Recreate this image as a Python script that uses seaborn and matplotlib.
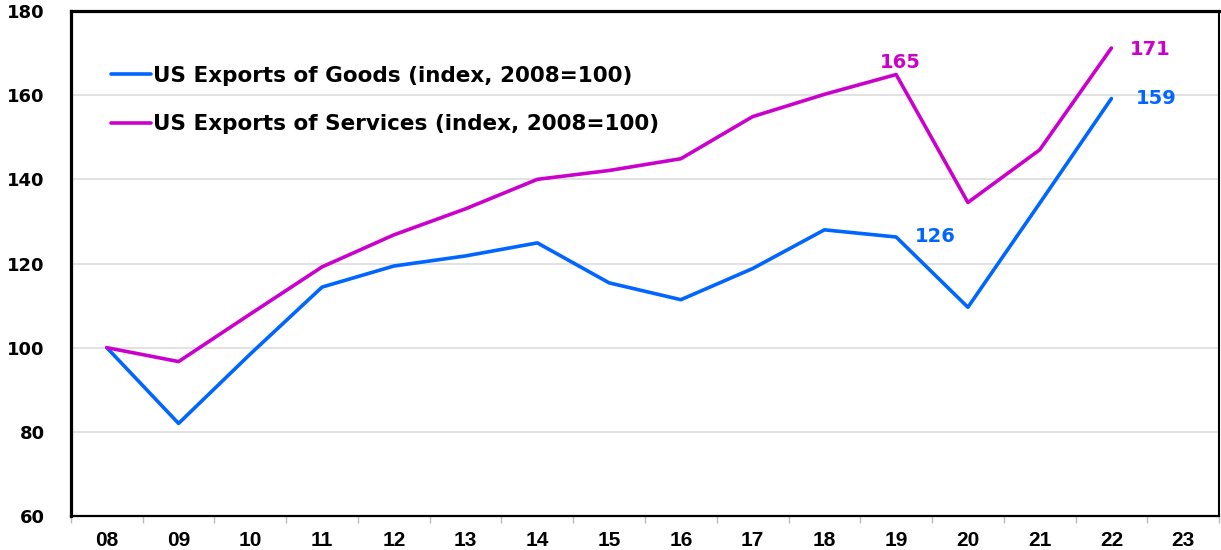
import matplotlib
matplotlib.use("Agg")
import matplotlib.pyplot as plt
from matplotlib.ticker import FixedLocator
import seaborn as sns
import pandas as pd
import numpy as np

# Annual export indices, 2008 = 100
years = ["08", "09", "10", "11", "12", "13", "14", "15", "16", "17", "18", "19", "20", "21", "22", "23"]
goods = [100, 82.0, 98.5, 114.4, 119.4, 121.8, 124.9, 115.4, 111.4, 118.8, 128.0, 126.3, 109.6, 134.3, 159.2]
services = [100, 96.7, 108.0, 119.2, 126.8, 133.0, 140.0, 142.1, 144.9, 154.9, 160.2, 164.9, 134.5, 147.0, 171.2]
series_names = ["US Exports of Goods (index, 2008=100)",
                "US Exports of Services (index, 2008=100)"]
colors = ["#0066FF", "#CC00CC"]
y_ticks = [60, 80, 100, 120, 140, 160, 180]

# Value labels: (series index, year index, text)
value_labels = [(1, 11, "165"), (0, 11, "126"), (1, 14, "171"), (0, 14, "159")]

sns.set_theme(style="white")
plt.rcParams["font.family"] = ["DejaVu Sans"]
plt.rcParams["font.weight"] = "bold"
plt.rcParams["text.color"] = "black"
plt.rcParams["xtick.color"] = "black"
plt.rcParams["ytick.color"] = "black"

df = pd.DataFrame({
    "pos": list(range(len(goods))) + list(range(len(services))),
    "value": goods + services,
    "series": [series_names[0]] * len(goods) + [series_names[1]] * len(services),
})

fig = plt.figure(figsize=(12.21, 5.5), dpi=100)
ax = fig.add_axes([0.0581, 0.0618, 0.9403, 0.9182])

sns.lineplot(data=df, x="pos", y="value", hue="series", hue_order=series_names,
             palette=colors, linewidth=2.6, ax=ax, legend=True)

ax.set_xlim(-0.5, len(years) - 0.5)
ax.set_ylim(60, 180)
ax.set_yticks(y_ticks)
ax.set_yticklabels([str(t) for t in y_ticks], fontsize=13, fontweight="bold",
                   family="DejaVu Sans", color="black")
ax.set_xticks(range(len(years)))
ax.set_xticklabels(years, fontsize=15, fontweight="bold",
                   family=["Liberation Sans Narrow", "Liberation Sans"], color="black")
ax.xaxis.set_minor_locator(FixedLocator(np.arange(-0.5, len(years), 1.0)))
ax.tick_params(axis="x", which="major", bottom=True, length=0, pad=11)
ax.tick_params(axis="x", which="minor", bottom=True, length=5, width=1.0,
               color="#BBBBBB", direction="out")
ax.tick_params(axis="y", which="major", length=0, pad=19)
ax.set_xlabel("")
ax.set_ylabel("")

ax.yaxis.grid(True, color="#DDDDDD", linewidth=1.2)
ax.set_axisbelow(True)

for side, lw in [("left", 2.3), ("top", 2.3), ("right", 1.5), ("bottom", 1.6)]:
    ax.spines[side].set_visible(True)
    ax.spines[side].set_color("black")
    ax.spines[side].set_linewidth(lw)

series_data = [goods, services]
offsets = {(1, 11): (3, 9), (0, 11): (28, 0), (1, 14): (28, -1), (0, 14): (32, 0)}
for si, yi, txt in value_labels:
    dx, dy = offsets[(si, yi)]
    ax.annotate(txt, (yi, series_data[si][yi]), xytext=(dx, dy), textcoords="offset points",
                ha="center", va="center", color=colors[si], fontsize=14, fontweight="bold")

leg = ax.legend(loc="upper left", bbox_to_anchor=(0.018, 0.93), frameon=False,
                handlelength=1.85, handletextpad=0.1, labelspacing=1.33,
                prop={"size": 15.5, "weight": "bold", "family": "DejaVu Sans"})
for h in leg.get_lines():
    h.set_linewidth(2.6)
for t in leg.get_texts():
    t.set_color("black")

fig.savefig("out.png", dpi=100)
